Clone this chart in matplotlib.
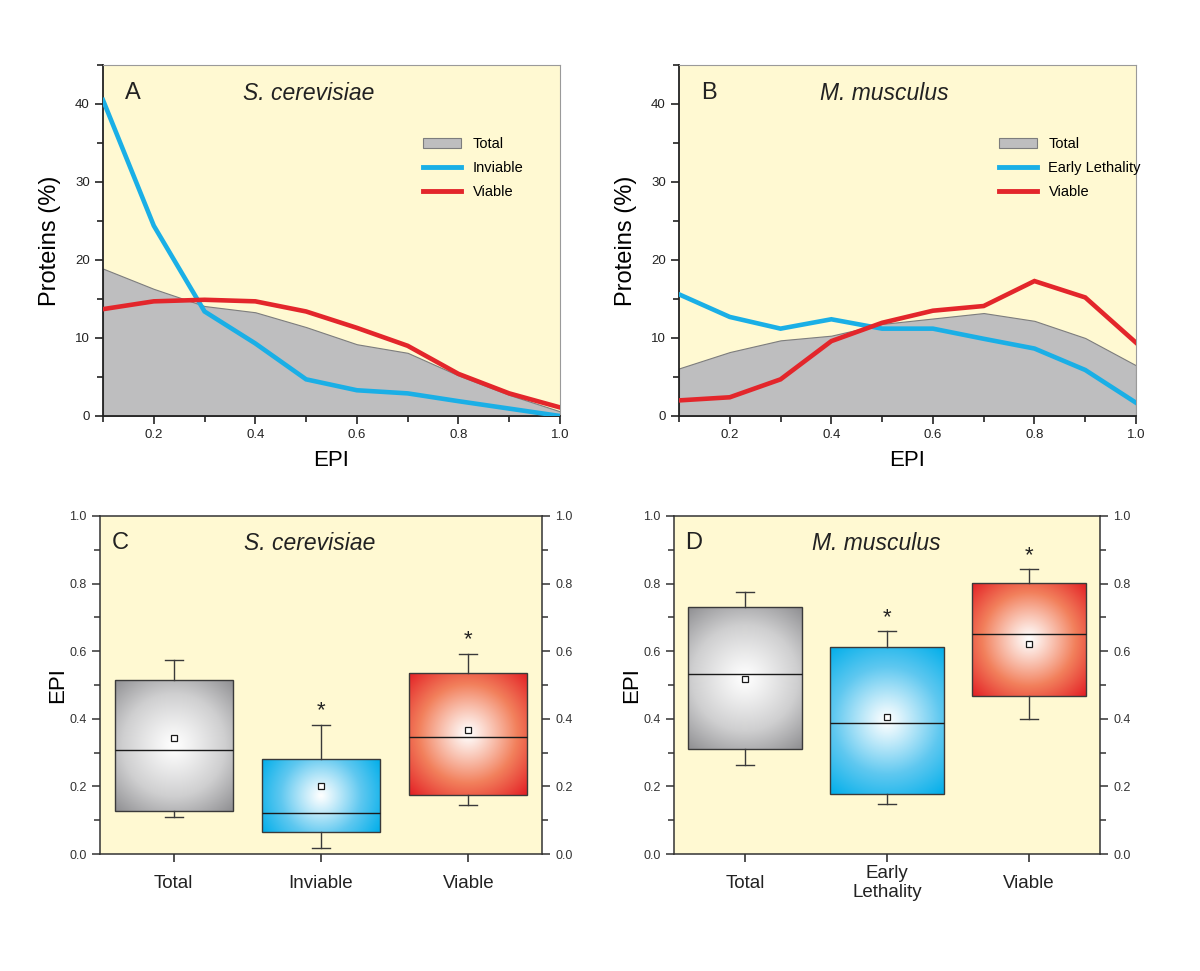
import numpy as np
import matplotlib
matplotlib.use('Agg')
import matplotlib.pyplot as plt
from matplotlib.ticker import MultipleLocator, FixedLocator
from matplotlib.patches import Patch
from matplotlib.lines import Line2D
from matplotlib.colors import to_rgb

plt.rcParams['font.family'] = ['Liberation Sans', 'DejaVu Sans']

# EPI bins used in the distribution panels
epi = [0.1, 0.2, 0.3, 0.4, 0.5, 0.6, 0.7, 0.8, 0.9, 1.0]

# Panel A - S. cerevisiae, proteins (%)
sc_total = [18.9, 16.3, 14.1, 13.3, 11.4, 9.2, 8.1, 5.2, 2.7, 0.6]
sc_inviable = [40.5, 24.4, 13.4, 9.3, 4.7, 3.3, 2.9, 1.9, 0.95, 0.0]
sc_viable = [13.7, 14.7, 14.9, 14.7, 13.4, 11.3, 9.0, 5.4, 2.9, 1.1]

# Panel B - M. musculus, proteins (%)
mm_total = [6.1, 8.2, 9.7, 10.3, 11.8, 12.5, 13.2, 12.2, 10.0, 6.5]
mm_early = [15.6, 12.7, 11.2, 12.4, 11.2, 11.2, 9.9, 8.65, 5.9, 1.7]
mm_viable = [2.0, 2.4, 4.7, 9.6, 11.95, 13.5, 14.1, 17.3, 15.2, 9.4]

# Panel C - S. cerevisiae box summaries (EPI)
c_labels = ['Total', 'Inviable', 'Viable']
c_q1 = [0.126, 0.066, 0.175]
c_med = [0.309, 0.122, 0.345]
c_q3 = [0.516, 0.280, 0.536]
c_mean = [0.343, 0.201, 0.368]
c_whislo = [0.110, 0.019, 0.145]
c_whishi = [0.575, 0.383, 0.592]
c_star = [False, True, True]

# Panel D - M. musculus box summaries (EPI)
d_labels = ['Total', 'Early\nLethality', 'Viable']
d_q1 = [0.312, 0.178, 0.468]
d_med = [0.533, 0.388, 0.652]
d_q3 = [0.732, 0.611, 0.803]
d_mean = [0.518, 0.404, 0.621]
d_whislo = [0.262, 0.148, 0.400]
d_whishi = [0.775, 0.659, 0.842]
d_star = [False, True, True]

BG = '#FFF9D2'
GRAY = '#BEBEBF'
BLUE = '#1AAFE6'
RED = '#E3262B'
# white -> mid -> edge colour stops for the radial box fills
box_mids = ['#CFCFD0', '#5FC8F0', '#F2805C']
box_edges = ['#8E8E91', '#00AEEA', '#E31E24']

W, H = 1200, 971
fig = plt.figure(figsize=(12, 9.71), dpi=100)

top_rects = [(103, 65, 560, 416), (679, 65, 1136, 416)]
bot_rects = [(100, 516, 542, 854), (674, 516, 1100, 854)]


def to_frac(r):
    x0, y0, x1, y1 = r
    return [x0 / W, 1 - y1 / H, (x1 - x0) / W, (y1 - y0) / H]


def dist_panel(rect, letter, title, total, inv, via, inv_label):
    ax = fig.add_axes(to_frac(rect))
    ax.set_facecolor(BG)
    ax.fill_between(epi, 0, total, color=GRAY, edgecolor='#7d7d7d', lw=0.8, zorder=1)
    ax.plot(epi, inv, color=BLUE, lw=3.3, zorder=3, solid_joinstyle='miter')
    ax.plot(epi, via, color=RED, lw=3.3, zorder=3, solid_joinstyle='miter')
    ax.set_xlim(0.1, 1.0)
    ax.set_ylim(0, 45)
    ax.xaxis.set_major_locator(FixedLocator([0.2, 0.4, 0.6, 0.8, 1.0]))
    ax.xaxis.set_minor_locator(FixedLocator([0.1, 0.3, 0.5, 0.7, 0.9]))
    ax.yaxis.set_major_locator(FixedLocator([0, 10, 20, 30, 40]))
    ax.yaxis.set_minor_locator(MultipleLocator(5))
    ax.set_xticklabels(['0.2', '0.4', '0.6', '0.8', '1.0'])
    ax.tick_params(which='both', direction='out', labelsize=9.5, colors='#222222', width=1.2)
    ax.tick_params(which='major', length=6)
    ax.tick_params(which='minor', length=4)
    for s in ['left', 'bottom']:
        ax.spines[s].set_linewidth(1.3)
        ax.spines[s].set_color('#222222')
    for s in ['top', 'right']:
        ax.spines[s].set_linewidth(0.8)
        ax.spines[s].set_color('#9a9a9a')
    ax.set_xlabel('EPI', fontsize=16, labelpad=6)
    ax.set_ylabel('Proteins (%)', fontsize=17, labelpad=10)
    ax.text(0.066, 0.92, letter, transform=ax.transAxes, fontsize=17,
            ha='center', va='center', color='#222222')
    ax.text(0.45, 0.92, title, transform=ax.transAxes, fontsize=16.5, style='italic',
            ha='center', va='center', color='#222222')
    handles = [Patch(facecolor=GRAY, edgecolor='#7d7d7d', lw=0.8),
               Line2D([], [], color=BLUE, lw=3.5),
               Line2D([], [], color=RED, lw=3.5)]
    ax.legend(handles, ['Total', inv_label, 'Viable'], loc='upper left',
              bbox_to_anchor=(0.70, 0.795), frameon=False, fontsize=10.5,
              handlelength=2.6, handletextpad=0.8, labelspacing=0.7,
              borderpad=0, borderaxespad=0)
    return ax


def radial_image(mid_hex, edge_hex, wpx, hpx, n=240):
    xs = np.linspace(-wpx / 2, wpx / 2, n)
    ys = np.linspace(-hpx / 2, hpx / 2, n)
    X, Y = np.meshgrid(xs, ys)
    R = np.hypot(wpx / 2, hpx / 2)
    t = np.clip(np.hypot(X, Y) / R, 0, 1) ** 1.1
    white = np.ones(3)
    mid = np.array(to_rgb(mid_hex))
    edge = np.array(to_rgb(edge_hex))
    img = np.empty(t.shape + (3,))
    for c in range(3):
        img[..., c] = np.interp(t, [0, 0.55, 1.0], [white[c], mid[c], edge[c]])
    return img


def box_panel(rect, letter, title, labels, q1, med, q3, mean, wlo, whi, star):
    ax = fig.add_axes(to_frac(rect))
    ax.set_facecolor(BG)
    stats = [dict(med=med[i], q1=q1[i], q3=q3[i], mean=mean[i],
                  whislo=wlo[i], whishi=whi[i], fliers=[]) for i in range(len(labels))]
    pos = [1, 2, 3]
    bp = ax.bxp(stats, positions=pos, widths=0.8, patch_artist=True, showmeans=True,
                showfliers=False, capwidths=0.12,
                boxprops=dict(facecolor='none', edgecolor='#3a3a3a', lw=1.0),
                medianprops=dict(color='#1a1a1a', lw=1.0),
                whiskerprops=dict(color='#3a3a3a', lw=1.0),
                capprops=dict(color='#3a3a3a', lw=1.0),
                meanprops=dict(marker='s', markersize=4.5, markerfacecolor='white',
                               markeredgecolor='#1a1a1a', markeredgewidth=0.9),
                zorder=3)
    ax.set_xlim(0.5, 3.5)
    ax.set_ylim(0, 1.0)
    ax_w = rect[2] - rect[0]
    ax_h = rect[3] - rect[1]
    for i, patch in enumerate(bp['boxes']):
        wpx = 0.8 * ax_w / 3
        hpx = (q3[i] - q1[i]) * ax_h
        img = radial_image(box_mids[i], box_edges[i], wpx, hpx)
        im = ax.imshow(img, extent=(pos[i] - 0.4, pos[i] + 0.4, q1[i], q3[i]),
                       origin='lower', aspect='auto', interpolation='bilinear', zorder=2)
        im.set_clip_path(patch)
        if star[i]:
            ax.text(pos[i], whi[i] + 0.01, '*', ha='center', va='bottom',
                    fontsize=16, color='#222222')
    ax.set_xlim(0.5, 3.5)
    ax.set_ylim(0, 1.0)
    ax.set_xticks(pos)
    ax.set_xticklabels(labels, fontsize=13.5, va='center', color='#222222')
    ax.yaxis.set_major_locator(MultipleLocator(0.2))
    ax.yaxis.set_minor_locator(MultipleLocator(0.1))
    ax.yaxis.set_major_formatter(matplotlib.ticker.FormatStrFormatter('%.1f'))
    ax.tick_params(axis='y', which='both', direction='out', left=True, right=True,
                   labelleft=True, labelright=True, labelsize=9, colors='#333333', width=1.1)
    ax.tick_params(axis='y', which='major', length=6)
    ax.tick_params(axis='y', which='minor', length=4)
    ax.tick_params(axis='x', direction='out', length=6, width=1.1, pad=15, colors='#222222')
    for s in ax.spines.values():
        s.set_linewidth(1.1)
        s.set_color('#333333')
    ax.set_ylabel('EPI', fontsize=16, labelpad=1)
    ax.text(0.045, 0.92, letter, transform=ax.transAxes, fontsize=17,
            ha='center', va='center', color='#222222')
    ax.text(0.475, 0.92, title, transform=ax.transAxes, fontsize=16.5, style='italic',
            ha='center', va='center', color='#222222')
    return ax


dist_panel(top_rects[0], 'A', 'S. cerevisiae', sc_total, sc_inviable, sc_viable, 'Inviable')
dist_panel(top_rects[1], 'B', 'M. musculus', mm_total, mm_early, mm_viable, 'Early Lethality')
box_panel(bot_rects[0], 'C', 'S. cerevisiae', c_labels, c_q1, c_med, c_q3, c_mean,
          c_whislo, c_whishi, c_star)
box_panel(bot_rects[1], 'D', 'M. musculus', d_labels, d_q1, d_med, d_q3, d_mean,
          d_whislo, d_whishi, d_star)

fig.savefig('out.png', dpi=100, facecolor='white')
